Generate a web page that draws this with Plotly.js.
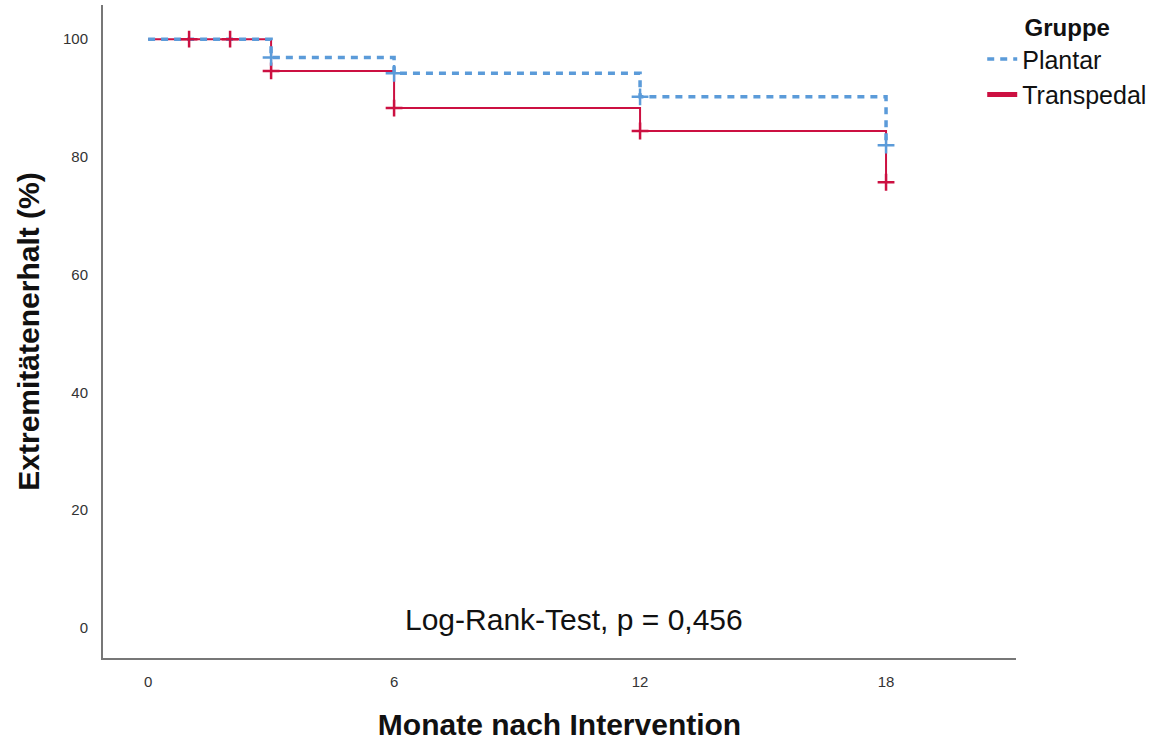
<!DOCTYPE html>
<html>
<head>
<meta charset="utf-8">
<script src="https://cdn.plot.ly/plotly-3.0.1.min.js"></script>
<style>html,body{margin:0;padding:0;background:#fff;}#chart{width:1164px;height:742px;}</style>
</head>
<body>
<div id="chart"></div>
<script>
// Step times (months) and survival (%)
const plantarTimes = [0, 3, 6, 12, 18];
const plantarSurv = [100, 96.9, 94.2, 90.2, 82.0];
const plantarCensorTimes = [3, 6, 12, 18];
const plantarCensorSurv = [96.9, 94.2, 90.2, 82.0];

const transTimes = [0, 3, 6, 12, 18];
const transSurv = [100, 94.6, 88.3, 84.4, 75.7];
const transCensorTimes = [1, 2, 3, 6, 12, 18];
const transCensorSurv = [100, 100, 94.6, 88.3, 84.4, 75.7];

const xTicks = [0, 6, 12, 18];
const yTicks = [0, 20, 40, 60, 80, 100];

const blue = '#5b9bd9';
const red = '#cc1041';

const traces = [
  {x: transTimes, y: transSurv, type: 'scatter', mode: 'lines', line: {shape: 'hv', color: red, width: 2}, name: 'Transpedal', showlegend: false, hoverinfo: 'skip'},
  {x: plantarTimes, y: plantarSurv, type: 'scatter', mode: 'lines', line: {shape: 'hv', color: blue, width: 3.5, dash: '7px,6px'}, name: 'Plantar'},
  {x: transCensorTimes, y: transCensorSurv, type: 'scatter', mode: 'markers', marker: {symbol: 'cross-thin', size: 12, line: {color: red, width: 2.5}}, showlegend: false},
  {x: plantarCensorTimes, y: plantarCensorSurv, type: 'scatter', mode: 'markers', marker: {symbol: 'cross-thin', size: 12, line: {color: blue, width: 2.5}}, showlegend: false},
  {x: [null], y: [null], type: 'scatter', mode: 'lines', line: {color: red, width: 5}, name: 'Transpedal'}
];

const layout = {
  width: 1164, height: 742,
  margin: {l: 103, r: 148, t: 5, b: 84},
  paper_bgcolor: '#fff', plot_bgcolor: '#fff',
  font: {family: 'Liberation Sans, Arial, sans-serif', color: '#222'},
  showlegend: true,
  xaxis: {
    range: [-1.1, 21.17], tickvals: xTicks, ticktext: xTicks.map(String),
    showgrid: false, zeroline: false, showline: true, linecolor: '#777', linewidth: 2,
    ticks: '', tickfont: {size: 15, color: '#333'}, ticklabelstandoff: 9,
    title: {text: 'Monate nach Intervention', font: {size: 30, color: '#111', weight: 'bold'}, standoff: 25}
  },
  yaxis: {
    range: [-5.1, 105.8], tickvals: yTicks, ticktext: yTicks.map(String),
    showgrid: false, zeroline: false, showline: true, linecolor: '#777', linewidth: 2,
    ticks: '', tickfont: {size: 15, color: '#333'}, ticklabelstandoff: 10,
    title: {text: 'Extremitätenerhalt (%)', font: {size: 30, color: '#111', weight: 'bold'}, standoff: 14}
  },
  legend: {
    x: 0.963, y: 1.0, xanchor: 'left', yanchor: 'top',
    font: {size: 25, color: '#111'},
    title: {text: '<b>Gruppe</b>', side: 'top center', font: {size: 24, color: '#111'}},
    bgcolor: 'rgba(0,0,0,0)', tracegroupgap: 0
  },
  annotations: [{
    text: 'Log-Rank-Test, p = 0,456', xref: 'x', yref: 'y', x: 10.4, y: 1.5,
    showarrow: false, font: {size: 30, color: '#111'}
  }]
};

Plotly.newPlot('chart', traces, layout, {displayModeBar: false, staticPlot: true});
</script>
</body>
</html>
